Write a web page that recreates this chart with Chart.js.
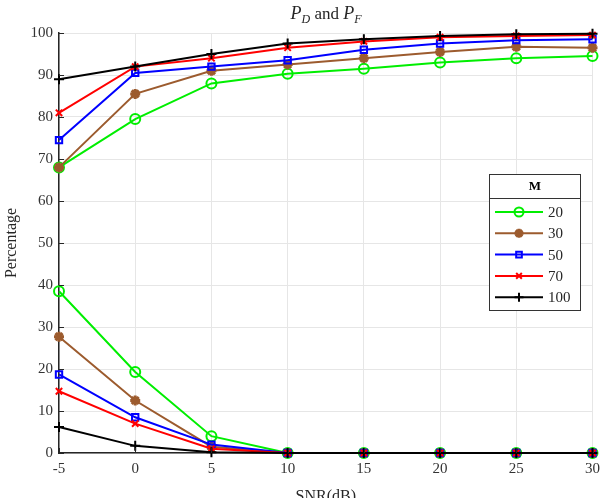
<!DOCTYPE html>
<html>
<head>
<meta charset="utf-8">
<script src="https://cdn.jsdelivr.net/npm/chart.js@4/dist/chart.umd.min.js"></script>
<style>
  html, body { margin: 0; padding: 0; background: #fff; }
  #wrap { width: 607px; height: 498px; }
</style>
</head>
<body>
<div id="wrap"><canvas id="c" width="607" height="498"></canvas></div>
<script>
// SNR axis and tick labels
const snr = [-5, 0, 5, 10, 15, 20, 25, 30];
const yTicks = [0, 10, 20, 30, 40, 50, 60, 70, 80, 90, 100];
const mValues = ['20', '30', '50', '70', '100'];

// detection probability P_D (%)
const pd20  = [68, 79.5, 88, 90.3, 91.5, 93, 94, 94.5];
const pd30  = [68, 85.5, 91, 92.5, 94, 95.5, 96.7, 96.5];
const pd50  = [74.5, 90.5, 92, 93.5, 96, 97.5, 98.3, 98.5];
const pd70  = [81, 92, 94, 96.5, 98, 99, 99.3, 99.5];
const pd100 = [89, 92, 95, 97.5, 98.5, 99.3, 99.7, 99.8];

// false alarm probability P_F (%)
const pf20  = [38.5, 19.3, 4, 0, 0, 0, 0, 0];
const pf30  = [27.7, 12.5, 1.5, 0, 0, 0, 0, 0];
const pf50  = [18.7, 8.5, 2, 0, 0, 0, 0, 0];
const pf70  = [14.7, 7, 1, 0, 0, 0, 0, 0];
const pf100 = [6.2, 1.7, 0.2, 0, 0, 0, 0, 0];

const serif = "'Liberation Serif', 'Times New Roman', serif";
const styles = [
  { color: '#00ee00', point: 'circle', r: 5, bw: 2, fill: 'rgba(255,255,255,0)' },
  { color: '#9c5b2e', point: 'star', r: 5, bw: 3, fill: '#9c5b2e' },
  { color: '#0000ff', point: 'rect', r: 4.5, bw: 2, fill: 'rgba(255,255,255,0)' },
  { color: '#ff0000', point: 'crossRot', r: 4.5, bw: 2, fill: '#ff0000' },
  { color: '#000000', point: 'cross', r: 5, bw: 2, fill: '#000000' },
];
const pdSeries = [pd20, pd30, pd50, pd70, pd100];
const pfSeries = [pf20, pf30, pf50, pf70, pf100];

function makeSet(vals, i, kind) {
  const s = styles[i];
  return {
    label: 'M=' + mValues[i] + ' ' + kind,
    data: snr.map((x, k) => ({ x, y: vals[k] })),
    borderColor: s.color,
    backgroundColor: s.fill,
    pointStyle: s.point,
    pointRadius: s.r,
    pointBorderWidth: s.bw,
    pointBorderColor: s.color,
    pointBackgroundColor: s.fill,
    borderWidth: 2,
    tension: 0,
    clip: false,
    order: 4 - i,
  };
}

const datasets = [];
pdSeries.forEach((v, i) => datasets.push(makeSet(v, i, 'PD')));
pfSeries.forEach((v, i) => datasets.push(makeSet(v, i, 'PF')));

const decor = {
  id: 'decor',
  afterDraw(chart) {
    const ctx = chart.ctx;
    const a = chart.chartArea;
    const xs = chart.scales.x, ys = chart.scales.y;
    ctx.save();
    // inward ticks
    ctx.strokeStyle = '#262626';
    ctx.lineWidth = 1;
    ctx.beginPath();
    snr.forEach(v => {
      const px = Math.round(xs.getPixelForValue(v)) + 0.5;
      ctx.moveTo(px, a.bottom); ctx.lineTo(px, a.bottom - 5);
    });
    yTicks.forEach(v => {
      const py = Math.round(ys.getPixelForValue(v)) + 0.5;
      ctx.moveTo(a.left, py); ctx.lineTo(a.left + 5, py);
    });
    ctx.stroke();

    // title P_D and P_F
    ctx.fillStyle = '#262626';
    ctx.textBaseline = 'alphabetic';
    ctx.textAlign = 'left';
    const big = 'italic 18px ' + serif;
    const small = 'italic 12px ' + serif;
    const norm = '17px ' + serif;
    const parts = [
      [big, 'P', 0], [small, 'D', 4], [norm, ' and ', 0], [big, 'P', 0], [small, 'F', 4]
    ];
    let w = 0;
    parts.forEach(p => { ctx.font = p[0]; w += ctx.measureText(p[1]).width; });
    let tx = 326 - w / 2;
    parts.forEach(p => {
      ctx.font = p[0];
      ctx.fillText(p[1], tx, 19 + p[2]);
      tx += ctx.measureText(p[1]).width;
    });

    // axis titles
    ctx.font = '16px ' + serif;
    ctx.textAlign = 'center';
    ctx.fillText('SNR(dB)', (a.left + a.right) / 2, 501);
    ctx.save();
    ctx.translate(12, (a.top + a.bottom) / 2);
    ctx.rotate(-Math.PI / 2);
    ctx.textBaseline = 'middle';
    ctx.fillText('Percentage', 0, 0);
    ctx.restore();

    // legend box
    const lx = 489.5, ly = 174.5, lw = 91, lh = 136;
    ctx.fillStyle = '#ffffff';
    ctx.fillRect(lx, ly, lw, lh);
    ctx.strokeStyle = '#333333';
    ctx.lineWidth = 1;
    ctx.strokeRect(lx, ly, lw, lh);
    ctx.beginPath();
    ctx.moveTo(lx, ly + 24); ctx.lineTo(lx + lw, ly + 24);
    ctx.stroke();
    ctx.fillStyle = '#000';
    ctx.font = 'bold 13px ' + serif;
    ctx.textAlign = 'center';
    ctx.textBaseline = 'middle';
    ctx.fillText('M', lx + lw / 2, ly + 12.5);
    ctx.font = '15px ' + serif;
    ctx.textAlign = 'left';
    mValues.forEach((m, i) => {
      const s = styles[i];
      const yy = 212 + i * 21.3;
      ctx.strokeStyle = s.color;
      ctx.lineWidth = 2;
      ctx.beginPath();
      ctx.moveTo(495, yy); ctx.lineTo(543, yy);
      ctx.stroke();
      ctx.fillStyle = s.fill;
      ctx.lineWidth = s.bw;
      Chart.helpers.drawPoint(ctx, {
        pointStyle: s.point, radius: s.r - 0.5, borderWidth: s.bw, rotation: 0
      }, 519, yy);
      ctx.fillStyle = '#262626';
      ctx.fillText(m, 548, yy + 1);
    });
    ctx.restore();
  }
};

new Chart(document.getElementById('c'), {
  type: 'line',
  data: { datasets },
  options: {
    responsive: false,
    animation: false,
    layout: { padding: { left: 0, right: 12, top: 33, bottom: 0 } },
    plugins: { legend: { display: false }, title: { display: false }, tooltip: { enabled: false } },
    scales: {
      x: {
        type: 'linear', min: -5, max: 30,
        afterBuildTicks: s => { s.ticks = snr.map(v => ({ value: v })); },
        afterFit: s => { s.height = 45; },
        grid: { color: '#e6e6e6', drawTicks: false },
        border: { color: '#262626', width: 1.5 },
        ticks: { padding: 7, color: '#333', font: { family: serif, size: 15 } },
      },
      y: {
        min: 0, max: 100,
        afterBuildTicks: s => { s.ticks = yTicks.map(v => ({ value: v })); },
        afterFit: s => { s.width = 59; },
        grid: { color: '#e6e6e6', drawTicks: false },
        border: { color: '#262626', width: 1.5 },
        ticks: { padding: 6, color: '#333', font: { family: serif, size: 15 } },
      },
    },
  },
  plugins: [decor],
});
</script>
</body>
</html>
